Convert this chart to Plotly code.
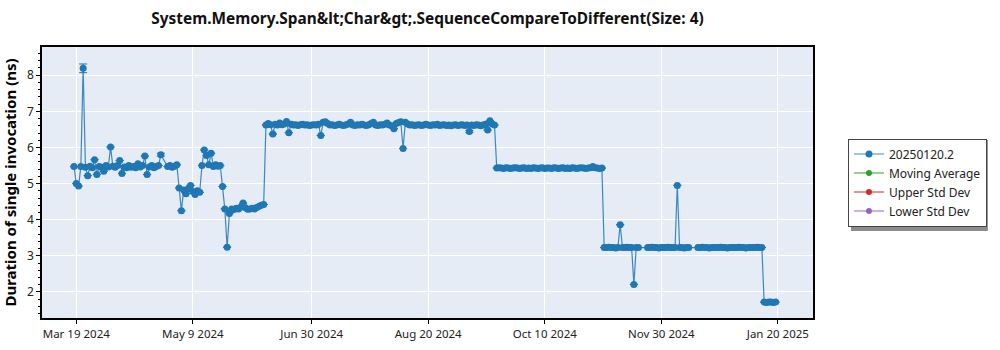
import plotly.graph_objects as go

# Benchmark runs: date of run and measured duration (ns)
run_dates = [
    # Mar - early May
    "2024-03-18", "2024-03-19", "2024-03-20", "2024-03-21", "2024-03-22", "2024-03-23", "2024-03-24",
    "2024-03-25", "2024-03-26", "2024-03-27", "2024-03-28", "2024-03-29", "2024-03-30", "2024-03-31",
    "2024-04-01", "2024-04-02", "2024-04-03", "2024-04-04", "2024-04-05", "2024-04-06", "2024-04-07",
    "2024-04-08", "2024-04-09", "2024-04-10", "2024-04-11", "2024-04-12", "2024-04-13", "2024-04-14",
    "2024-04-15", "2024-04-16", "2024-04-17", "2024-04-18", "2024-04-19", "2024-04-20", "2024-04-21",
    "2024-04-22", "2024-04-23", "2024-04-24", "2024-04-25", "2024-04-28", "2024-04-29", "2024-04-30",
    "2024-05-01", "2024-05-02",
    # May
    "2024-05-03", "2024-05-04", "2024-05-05", "2024-05-06", "2024-05-07", "2024-05-08", "2024-05-09",
    "2024-05-10", "2024-05-11", "2024-05-12",
    "2024-05-13", "2024-05-14", "2024-05-15", "2024-05-16", "2024-05-17", "2024-05-18", "2024-05-19",
    "2024-05-20", "2024-05-21", "2024-05-22",
    "2024-05-23", "2024-05-24", "2024-05-25", "2024-05-26", "2024-05-27", "2024-05-28", "2024-05-29",
    "2024-05-30", "2024-05-31", "2024-06-01", "2024-06-02", "2024-06-03", "2024-06-04", "2024-06-05",
    "2024-06-06", "2024-06-07", "2024-06-08", "2024-06-09",
    # Jun - Sep
    "2024-06-10", "2024-06-11", "2024-06-12", "2024-06-13", "2024-06-14", "2024-06-15", "2024-06-16",
    "2024-06-17", "2024-06-18", "2024-06-19", "2024-06-20", "2024-06-21", "2024-06-22", "2024-06-23",
    "2024-06-24", "2024-06-25", "2024-06-26", "2024-06-27", "2024-06-28", "2024-06-29", "2024-06-30",
    "2024-07-01", "2024-07-02", "2024-07-03", "2024-07-04", "2024-07-05", "2024-07-06", "2024-07-07",
    "2024-07-08", "2024-07-09", "2024-07-10", "2024-07-11", "2024-07-12", "2024-07-13", "2024-07-14",
    "2024-07-15", "2024-07-16", "2024-07-17", "2024-07-18", "2024-07-19", "2024-07-20", "2024-07-21",
    "2024-07-22", "2024-07-23", "2024-07-24", "2024-07-25", "2024-07-26", "2024-07-27", "2024-07-28",
    "2024-07-29", "2024-07-30", "2024-07-31", "2024-08-01", "2024-08-02", "2024-08-03", "2024-08-04",
    "2024-08-05", "2024-08-06", "2024-08-07", "2024-08-08", "2024-08-09", "2024-08-10", "2024-08-11",
    "2024-08-12", "2024-08-13", "2024-08-14", "2024-08-15", "2024-08-16", "2024-08-17", "2024-08-18",
    "2024-08-19", "2024-08-20", "2024-08-21", "2024-08-22", "2024-08-23", "2024-08-24", "2024-08-25",
    "2024-08-26", "2024-08-27", "2024-08-28", "2024-08-29", "2024-08-30", "2024-08-31", "2024-09-01",
    "2024-09-02", "2024-09-03", "2024-09-04", "2024-09-05", "2024-09-06", "2024-09-07", "2024-09-08",
    "2024-09-09", "2024-09-10", "2024-09-11", "2024-09-12", "2024-09-13", "2024-09-14", "2024-09-15",
    "2024-09-16", "2024-09-17", "2024-09-18",
    # Sep - Nov
    "2024-09-19", "2024-09-20", "2024-09-21", "2024-09-22", "2024-09-23", "2024-09-24", "2024-09-25",
    "2024-09-26", "2024-09-27", "2024-09-28", "2024-09-29", "2024-09-30", "2024-10-01", "2024-10-02",
    "2024-10-03", "2024-10-04", "2024-10-05", "2024-10-06", "2024-10-07", "2024-10-08", "2024-10-09",
    "2024-10-10", "2024-10-11", "2024-10-12", "2024-10-13", "2024-10-14", "2024-10-15", "2024-10-16",
    "2024-10-17", "2024-10-18", "2024-10-19", "2024-10-20", "2024-10-21", "2024-10-22", "2024-10-23",
    "2024-10-24", "2024-10-25", "2024-10-26", "2024-10-27", "2024-10-28", "2024-10-29", "2024-10-30",
    "2024-10-31", "2024-11-01", "2024-11-02", "2024-11-03", "2024-11-04",
    # Nov - Jan
    "2024-11-05", "2024-11-06", "2024-11-07", "2024-11-08", "2024-11-09", "2024-11-10", "2024-11-11",
    "2024-11-12", "2024-11-13", "2024-11-14", "2024-11-15", "2024-11-16", "2024-11-17", "2024-11-18",
    "2024-11-19", "2024-11-20",
    "2024-11-24", "2024-11-25", "2024-11-26", "2024-11-27", "2024-11-28", "2024-11-29", "2024-11-30",
    "2024-12-01", "2024-12-02", "2024-12-03", "2024-12-04", "2024-12-05", "2024-12-06", "2024-12-07",
    "2024-12-08", "2024-12-09", "2024-12-10", "2024-12-11", "2024-12-12",
    "2024-12-16", "2024-12-17", "2024-12-18", "2024-12-19", "2024-12-20", "2024-12-21", "2024-12-22",
    "2024-12-23", "2024-12-24", "2024-12-25", "2024-12-26", "2024-12-27", "2024-12-28", "2024-12-29",
    "2024-12-30", "2024-12-31", "2025-01-01", "2025-01-02", "2025-01-03", "2025-01-04", "2025-01-05",
    "2025-01-06", "2025-01-07", "2025-01-08", "2025-01-09", "2025-01-10", "2025-01-11", "2025-01-12",
    "2025-01-13",
    # Jan
    "2025-01-14", "2025-01-15", "2025-01-16", "2025-01-17", "2025-01-18", "2025-01-19",
]

duration_ns = [
    # Mar - early May
    5.47, 5.00, 4.93, 5.47, 8.19, 5.45, 5.22,
    5.48, 5.44, 5.66, 5.25, 5.47, 5.45, 5.34,
    5.50, 5.46, 6.01, 5.48, 5.45, 5.50, 5.64,
    5.28, 5.46, 5.44, 5.50, 5.45, 5.47, 5.44,
    5.55, 5.46, 5.50, 5.76, 5.25, 5.46, 5.50,
    5.44, 5.47, 5.50, 5.80, 5.47, 5.50, 5.45,
    5.48, 5.52,
    # May
    4.88, 4.25, 4.82, 4.72, 4.86, 4.95, 4.78,
    4.70, 4.80, 4.76,
    5.50, 5.93, 5.78, 5.52, 5.84, 5.47, 5.52,
    5.48, 5.50, 4.92,
    4.30, 3.24, 4.17, 4.30, 4.28, 4.32, 4.30,
    4.35, 4.46, 4.33, 4.29, 4.30, 4.32, 4.30,
    4.34, 4.37, 4.40, 4.42,
    # Jun - Sep
    6.62, 6.66, 6.63, 6.37, 6.64, 6.62, 6.68,
    6.63, 6.65, 6.72, 6.41, 6.64, 6.62, 6.63,
    6.61, 6.63, 6.64, 6.62, 6.63, 6.61, 6.62,
    6.63, 6.62, 6.64, 6.33, 6.70, 6.71, 6.66,
    6.62, 6.63, 6.61, 6.62, 6.64, 6.62, 6.61,
    6.63, 6.65, 6.70, 6.62, 6.61, 6.63, 6.62,
    6.64, 6.62, 6.61, 6.63, 6.66, 6.70, 6.62,
    6.61, 6.63, 6.62, 6.64, 6.68, 6.62, 6.60,
    6.52, 6.66, 6.69, 6.71, 5.97, 6.70, 6.65,
    6.62, 6.63, 6.61, 6.62, 6.63, 6.61, 6.62,
    6.64, 6.62, 6.61, 6.63, 6.62, 6.64, 6.61,
    6.62, 6.63, 6.61, 6.62, 6.60, 6.62, 6.63,
    6.61, 6.62, 6.63, 6.61, 6.62, 6.44, 6.62,
    6.61, 6.63, 6.62, 6.60, 6.62, 6.64, 6.48,
    6.74, 6.65, 6.62,
    # Sep - Nov
    5.43, 5.44, 5.43, 5.42, 5.44, 5.43, 5.42,
    5.43, 5.44, 5.43, 5.42, 5.43, 5.44, 5.42,
    5.43, 5.42, 5.44, 5.43, 5.42, 5.43, 5.44,
    5.42, 5.43, 5.43, 5.42, 5.44, 5.43, 5.42,
    5.43, 5.44, 5.42, 5.43, 5.42, 5.44, 5.43,
    5.42, 5.43, 5.44, 5.43, 5.42, 5.43, 5.44,
    5.47, 5.44, 5.43, 5.42, 5.43,
    # Nov - Jan
    3.23, 3.23, 3.24, 3.23, 3.23, 3.22, 3.23,
    3.86, 3.23, 3.23, 3.24, 3.23, 3.23, 2.21,
    3.23, 3.23,
    3.23, 3.23, 3.24, 3.23, 3.23, 3.22, 3.23,
    3.23, 3.23, 3.24, 3.23, 3.23, 3.23, 4.95,
    3.23, 3.23, 3.22, 3.23, 3.23,
    3.23, 3.23, 3.24, 3.23, 3.23, 3.22, 3.23,
    3.23, 3.23, 3.23, 3.24, 3.23, 3.23, 3.22,
    3.23, 3.23, 3.23, 3.23, 3.24, 3.23, 3.23,
    3.22, 3.23, 3.23, 3.23, 3.23, 3.24, 3.23,
    3.23,
    # Jan
    1.72, 1.71, 1.72, 1.72, 1.71, 1.72,
]

# Runs that reported a noticeable spread (ns)
spread_ns = {
    "2024-03-22": 0.12,
    "2024-04-25": 0.04,
    "2024-09-07": 0.03,
}

tick_dates = ["2024-03-19", "2024-05-09", "2024-06-30", "2024-08-20",
              "2024-10-10", "2024-11-30", "2025-01-20"]
tick_labels = ["Mar 19 2024", "May 9 2024", "Jun 30 2024", "Aug 20 2024",
               "Oct 10 2024", "Nov 30 2024", "Jan 20 2025"]

y_ticks = [2, 3, 4, 5, 6, 7, 8]

series_name = "20250120.2"
overlay_names = ["Moving Average", "Upper Std Dev", "Lower Std Dev"]
overlay_colors = ["#2ca02c", "#d62728", "#9467bd"]

BLUE = "#1f77b4"
FONT = "Noto Sans"

errors = [spread_ns.get(d, 0) for d in run_dates]

fig = go.Figure()
fig.add_trace(go.Scatter(
    x=run_dates, y=duration_ns, name=series_name,
    mode="lines+markers",
    line=dict(color="rgba(31,119,180,0.85)", width=1.2),
    marker=dict(color=BLUE, size=7),
    error_y=dict(type="data", array=errors, visible=True,
                 color=BLUE, thickness=1, width=4),
))
for name, color in zip(overlay_names, overlay_colors):
    fig.add_trace(go.Scatter(
        x=[None], y=[None], name=name, mode="lines+markers",
        line=dict(color=color, width=1.2), marker=dict(color=color, size=6),
    ))

# legend drop shadow
fig.add_shape(type="rect", xref="paper", yref="paper",
              x0=(851 - 41.5) / 771.5, x1=(988 - 41.5) / 771.5,
              y0=(318 - 231) / 271, y1=(318 - 140) / 271,
              fillcolor="#8c8c8c", line=dict(width=0), layer="below")

fig.update_layout(
    width=1000, height=350,
    margin=dict(l=42, r=187, t=47, b=32),
    paper_bgcolor="white",
    plot_bgcolor="#E5ECF6",
    font=dict(family=FONT, size=12, color="#222"),
    title=dict(
        text="System.Memory.Span&amp;lt;Char&amp;gt;.SequenceCompareToDifferent(Size: 4)",
        x=0.5, xref="paper", xanchor="center",
        y=0.948, yref="container", yanchor="middle",
        font=dict(family=FONT, size=15.4, color="#111", weight="bold"),
    ),
    showlegend=True,
    legend=dict(
        x=(848 - 41.5) / 771.5, xanchor="left",
        y=0.5, yanchor="middle",
        bgcolor="white", bordercolor="#444", borderwidth=1,
        font=dict(family=FONT, size=12, color="#222"),
    ),
    xaxis=dict(
        range=["2024-03-04", "2025-02-04 09:00"],
        tickvals=tick_dates, ticktext=tick_labels,
        showgrid=True, gridcolor="white", gridwidth=1,
        showline=True, linecolor="black", linewidth=1.5, mirror=True,
        ticks="outside", ticklen=4, tickcolor="black",
        tickfont=dict(family=FONT, size=11.5, color="#222"),
        zeroline=False, automargin=False,
    ),
    yaxis=dict(
        range=[1.28, 8.78],
        tickvals=y_ticks,
        showgrid=True, gridcolor="white", gridwidth=1,
        showline=True, linecolor="black", linewidth=1.5, mirror=True,
        ticks="outside", ticklen=4, tickcolor="black",
        minor=dict(dtick=0.2, ticks="outside", ticklen=2, tickcolor="black", showgrid=False),
        tickfont=dict(family=FONT, size=12, color="#222"),
        title=dict(text="<b>Duration of single invocation (ns)</b>",
                   font=dict(family=FONT, size=15, color="black")),
        zeroline=False, automargin=False,
    ),
)

fig.write_html("out.html")
